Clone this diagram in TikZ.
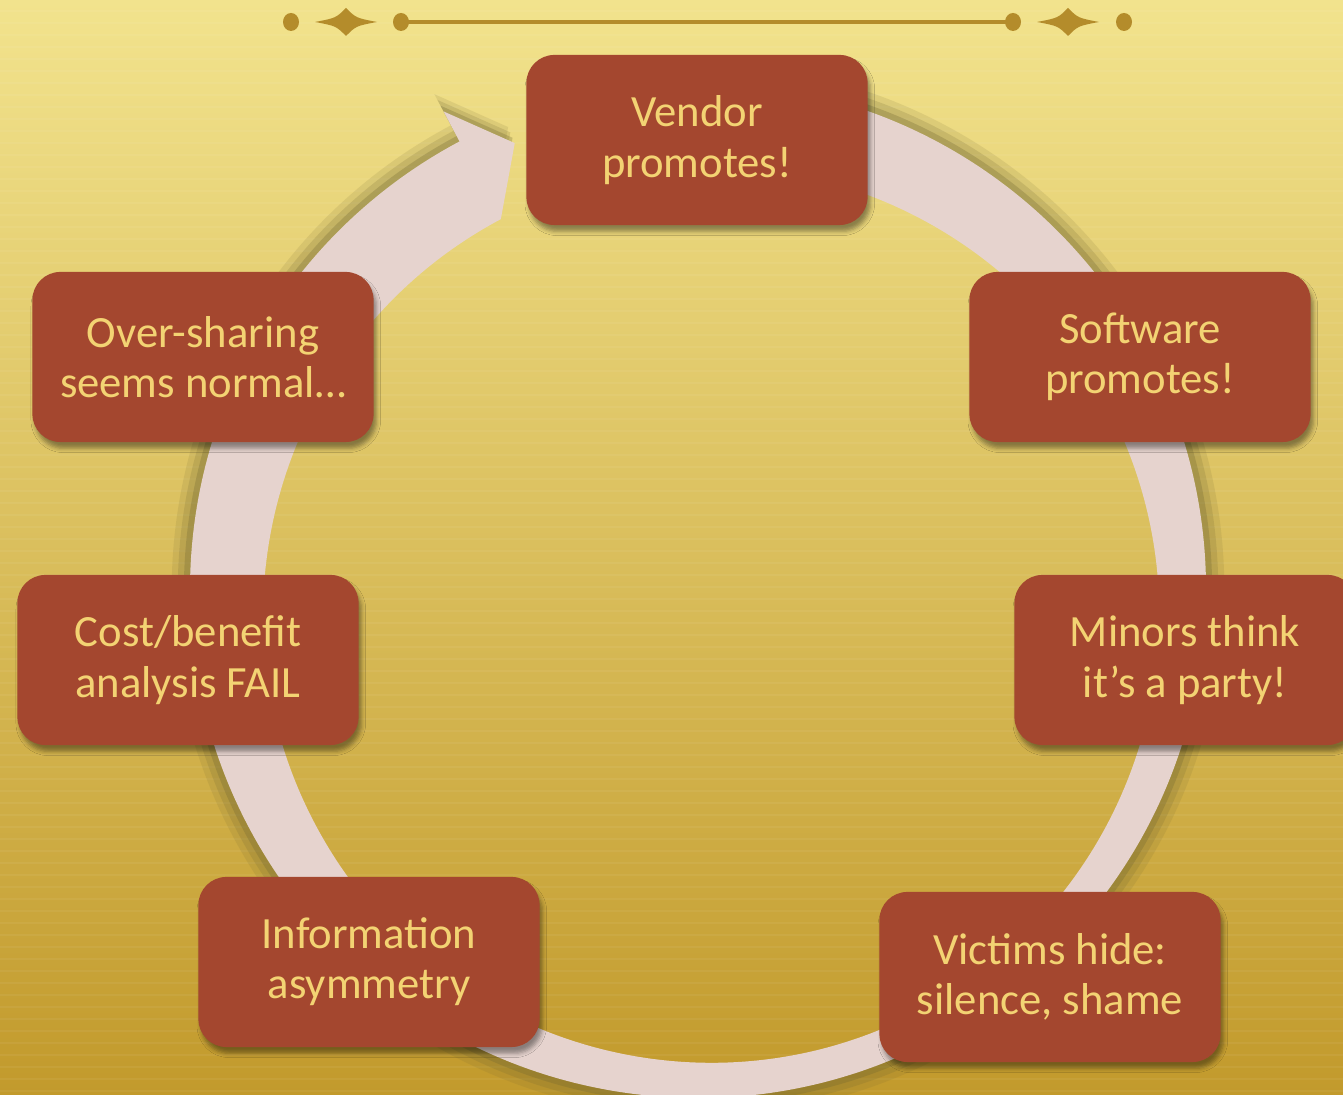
\documentclass[tikz,border=0pt]{standalone}
\usepackage{fontspec}
\setmainfont{Carlito}
\usetikzlibrary{shadows.blur}
\definecolor{bgtop}{HTML}{F2E38D}
\definecolor{bgbot}{HTML}{C29A2C}
\definecolor{boxred}{HTML}{A4472F}
\definecolor{boxgrain}{HTML}{8E3A26}
\definecolor{boxtext}{HTML}{F3D373}
\definecolor{ringpink}{HTML}{E6D3CE}
\definecolor{ringshade}{HTML}{6E6430}
\definecolor{ornament}{HTML}{B48C2B}
\begin{document}
\begin{tikzpicture}[x=0.01cm, y=0.01cm,
    stepbox/.style={fill=boxred, text=boxtext, rounded corners=0.28cm,
        minimum width=3.41cm, minimum height=1.70cm, inner sep=0pt, align=center,
        font=\fontsize{12.7}{14.3}\selectfont,
        blur shadow={shadow xshift=0.8pt, shadow yshift=-1.8pt, shadow blur radius=1.2pt, shadow opacity=40}},
    dot/.style={fill=ornament}]
    \def\ro{508}
    \def\ri{448}
    \def\ringpath{(85:\ro) arc[start angle=85, end angle=-242, radius=\ro] -- (-242:542) -- (-247.7:483) -- (-242:420) arc[start angle=-242, end angle=85, radius=\ri] -- cycle}

    \useasboundingbox (0,0) rectangle (1343,1095);
    \clip (0,0) rectangle (1343,1095);
    \fill[top color=bgtop, bottom color=bgbot] (0,0) rectangle (1343,1095);
    \foreach \yy in {4,16,...,1095} {\draw[white, opacity=0.05, line width=0.4pt] (0,\yy) -- (1343,\yy);}

    % ornament on top
    \coordinate (orn-l1) at (291,1073);
    \coordinate (orn-l) at (346,1073);
    \coordinate (orn-l2) at (401,1073);
    \coordinate (orn-r1) at (1013,1073);
    \coordinate (orn-r) at (1068,1073);
    \coordinate (orn-r2) at (1124,1073);
    \draw[ornament, line width=1.15pt] (orn-l2) -- (orn-r1);
    \foreach \c in {orn-l1,orn-l2,orn-r1,orn-r2} {\fill[dot] (\c) ellipse [x radius=8, y radius=9];}
    \foreach \c in {orn-l,orn-r} {
        \begin{scope}[shift={(\c)}]
            \fill[dot] (-31,0) .. controls (-10,4) .. (0,14) .. controls (10,4) .. (31,0) .. controls (10,-4) .. (0,-14) .. controls (-10,-4) .. (-31,0) -- cycle;
        \end{scope}
    }

    % the cycle arrow
    \coordinate (ctr) at (698,505);
    \begin{scope}[shift={(ctr)}]
        \foreach \s/\o in {1.036/0.13, 1.024/0.18, 1.012/0.28} {\fill[ringshade, opacity=\o, scale=\s] \ringpath;}
        \fill[ringpink] \ringpath;
    \end{scope}

    % steps
    \foreach \nm/\px/\py/\txt in {
        vendor/697/955/{Vendor\\promotes!},
        software/1140/738/{Software\\promotes!},
        minors/1185/435/{Minors think\\it’s a party!},
        victims/1050/118/{Victims hide:\\silence, shame},
        info/369/133/{Information\\asymmetry},
        cost/188/435/{Cost/benefit\\analysis FAIL},
        oversharing/203/738/{Over-sharing\\seems normal…}} {
        \node[stepbox] (\nm) at (\px,\py) {\txt};
    }
\end{tikzpicture}
\end{document}
